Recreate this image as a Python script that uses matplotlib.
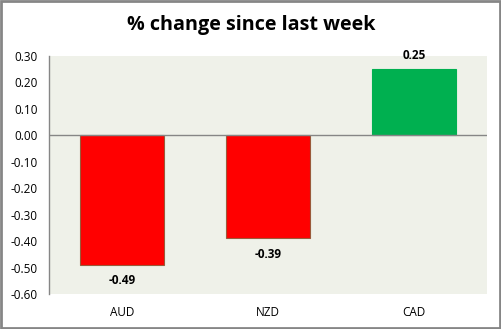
import matplotlib
matplotlib.use("Agg")
import matplotlib.pyplot as plt
from matplotlib.patches import Rectangle

currencies = ["AUD", "NZD", "CAD"]
changes = [-0.49, -0.39, 0.25]
y_ticks = [0.30, 0.20, 0.10, 0.00, -0.10, -0.20, -0.30, -0.40, -0.50, -0.60]

plt.rcParams["font.family"] = ["Open Sans", "DejaVu Sans"]

W, H = 502, 329
fig = plt.figure(figsize=(W / 100, H / 100), dpi=100)
fig.patch.set_facecolor("white")

# plot area in pixel coords
left, right, top, bottom = 49, 487, 56, 294
ax = fig.add_axes([left / W, 1 - bottom / H, (right - left) / W, (bottom - top) / H])
ax.set_facecolor("#eff1e9")

colors = ["#ff0000" if v < 0 else "#00b050" for v in changes]
edges = ["#9a5a3a" if v < 0 else "#00b050" for v in changes]
x = list(range(len(currencies)))
ax.bar(x, changes, width=0.57, color=colors, edgecolor=edges, linewidth=0.8, zorder=2)

ax.set_xlim(-0.5, len(currencies) - 0.5)
ax.set_ylim(-0.60, 0.30)
ax.set_yticks(y_ticks)
ax.set_yticklabels([f"{t:.2f}" for t in y_ticks], fontsize=8.5)
ax.set_xticks(x)
ax.set_xticklabels(currencies, fontsize=8.5)
ax.tick_params(axis="both", length=0, pad=8)
ax.tick_params(axis="x", pad=9)
ax.axhline(0, color="#868686", linewidth=1, zorder=3)

for s in ["top", "right", "bottom"]:
    ax.spines[s].set_visible(False)
ax.spines["left"].set_color("#868686")
ax.spines["left"].set_linewidth(1)

for xi, v in zip(x, changes):
    off = 10 if v > 0 else -11.5
    ax.annotate(f"{v:.2f}", (xi, v), xytext=(0, off), textcoords="offset points",
                ha="center", va="center", fontsize=8.5, fontweight="bold")

fig.text(0.5, 1 - 25 / H, "% change since last week", ha="center", va="center",
         fontsize=14.2, fontweight="bold")

fig.add_artist(Rectangle((0.002, 0.003), 0.995, 0.994, transform=fig.transFigure,
                         fill=False, edgecolor="#868686", linewidth=2))

fig.savefig("out.png", dpi=100)
